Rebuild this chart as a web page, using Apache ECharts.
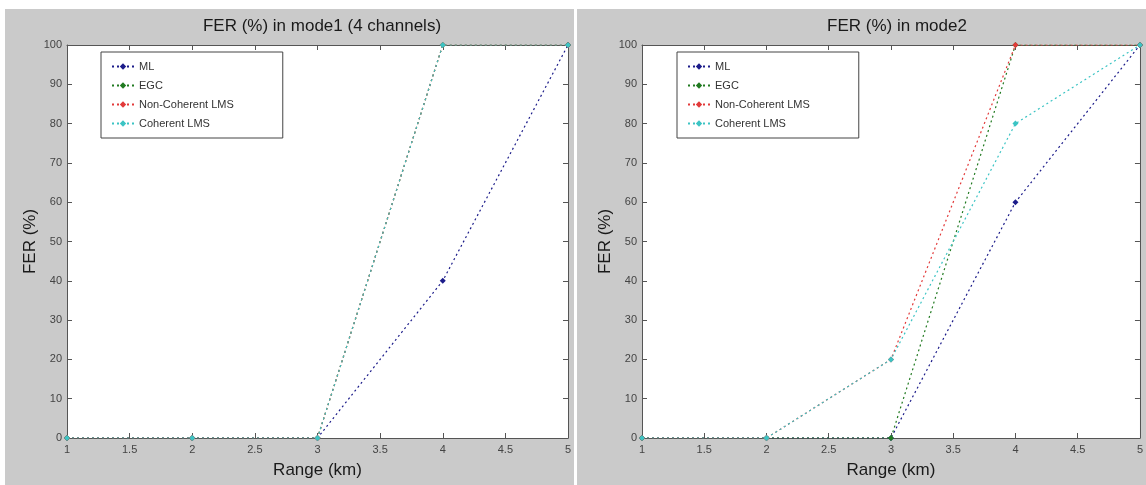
<!DOCTYPE html>
<html>
<head>
<meta charset="utf-8">
<script src="https://cdn.jsdelivr.net/npm/echarts@6/dist/echarts.min.js"></script>
<style>
  html, body { margin: 0; padding: 0; background: #fff; }
  #chart { width: 1146px; height: 485px; }
</style>
</head>
<body>
<div id="chart"></div>
<script>
// range (km) on the x axis
const ranges = [1, 2, 3, 4, 5]
const xTicks = [1, 1.5, 2, 2.5, 3, 3.5, 4, 4.5, 5]
const yTicks = [0, 10, 20, 30, 40, 50, 60, 70, 80, 90, 100]

const seriesNames = ['ML', 'EGC', 'Non-Coherent LMS', 'Coherent LMS']

// FER (%) in mode1 (4 channels)
const mode1ML = [0, 0, 0, 40, 100]
const mode1EGC = [0, 0, 0, 100, 100]
const mode1NCLMS = [0, 0, 0, 100, 100]
const mode1CLMS = [0, 0, 0, 100, 100]

// FER (%) in mode2
const mode2ML = [0, 0, 0, 60, 100]
const mode2EGC = [0, 0, 0, 100, 100]
const mode2NCLMS = [0, 0, 20, 100, 100]
const mode2CLMS = [0, 0, 20, 80, 100]

const colors = ['#1c1c8a', '#217a21', '#e23a3a', '#3cc4c4']
const font = 'Liberation Sans, Arial, sans-serif'

const chart = echarts.init(document.getElementById('chart'))

function xAxisFor(gridIndex, top) {
  return {
    type: 'value',
    gridIndex,
    position: top ? 'top' : 'bottom',
    min: xTicks[0],
    max: xTicks[xTicks.length - 1],
    interval: 0.5,
    name: top ? '' : 'Range (km)',
    nameLocation: 'middle',
    nameGap: 24,
    nameTextStyle: { fontSize: 17, color: '#1a1a1a', fontFamily: font },
    axisLine: { show: true, onZero: false, lineStyle: { color: '#555' } },
    axisTick: { show: true, inside: true, length: 5, lineStyle: { color: '#555' } },
    axisLabel: { show: !top, fontSize: 11, color: '#444', margin: 6, fontFamily: font },
    splitLine: { show: false }
  }
}

function yAxisFor(gridIndex, right) {
  return {
    type: 'value',
    gridIndex,
    position: right ? 'right' : 'left',
    min: yTicks[0],
    max: yTicks[yTicks.length - 1],
    interval: 10,
    name: right ? '' : 'FER (%)',
    nameLocation: 'middle',
    nameGap: 28,
    nameTextStyle: { fontSize: 17, color: '#1a1a1a', fontFamily: font },
    axisLine: { show: true, onZero: false, lineStyle: { color: '#555' } },
    axisTick: { show: true, inside: true, length: 5, lineStyle: { color: '#555' } },
    axisLabel: { show: !right, fontSize: 11, color: '#444', margin: 5, fontFamily: font },
    splitLine: { show: false }
  }
}

function makeSeries(name, values, color, axisIndex, z) {
  return {
    name,
    type: 'line',
    xAxisIndex: axisIndex,
    yAxisIndex: axisIndex,
    data: ranges.map((r, i) => [r, values[i]]),
    symbol: 'diamond',
    symbolSize: 6,
    z,
    itemStyle: { color },
    lineStyle: { color, width: 1.2, type: [2, 3] },
    emphasis: { disabled: true }
  }
}

function legendFor(left) {
  return {
    data: seriesNames,
    orient: 'vertical',
    left,
    top: 52,
    backgroundColor: '#fff',
    borderColor: '#444',
    borderWidth: 1,
    borderRadius: 0,
    padding: [9, 49, 9, 10],
    itemWidth: 22,
    itemHeight: 8,
    itemGap: 8,
    selectedMode: false,
    textStyle: { fontSize: 11, color: '#333', fontFamily: font }
  }
}

const mode1 = [mode1ML, mode1EGC, mode1NCLMS, mode1CLMS]
const mode2 = [mode2ML, mode2EGC, mode2NCLMS, mode2CLMS]

const option = {
  animation: false,
  backgroundColor: '#fff',
  graphic: [
    { type: 'rect', shape: { x: 5, y: 9, width: 569, height: 476 }, style: { fill: '#cacaca' }, z: -10 },
    { type: 'rect', shape: { x: 577, y: 9, width: 569, height: 476 }, style: { fill: '#cacaca' }, z: -10 }
  ],
  title: [
    {
      text: 'FER (%) in mode1 (4 channels)',
      left: 317, top: 13, textAlign: 'center',
      textStyle: { fontSize: 17, fontWeight: 'normal', color: '#1a1a1a', fontFamily: font }
    },
    {
      text: 'FER (%) in mode2',
      left: 892, top: 13, textAlign: 'center',
      textStyle: { fontSize: 17, fontWeight: 'normal', color: '#1a1a1a', fontFamily: font }
    }
  ],
  legend: [legendFor(101), legendFor(677)],
  grid: [
    { left: 67, right: 578, top: 45, bottom: 47, show: true, backgroundColor: '#fff', borderWidth: 0 },
    { left: 642, right: 5, top: 45, bottom: 47, show: true, backgroundColor: '#fff', borderWidth: 0 }
  ],
  xAxis: [xAxisFor(0, false), xAxisFor(1, false), xAxisFor(0, true), xAxisFor(1, true)],
  yAxis: [yAxisFor(0, false), yAxisFor(1, false), yAxisFor(0, true), yAxisFor(1, true)],
  series: [
    ...mode1.map((vals, i) => makeSeries(seriesNames[i], vals, colors[i], 0, 2 + i)),
    ...mode2.map((vals, i) => makeSeries(seriesNames[i], vals, colors[i], 1, 2 + i))
  ]
}

chart.setOption(option)
</script>
</body>
</html>
